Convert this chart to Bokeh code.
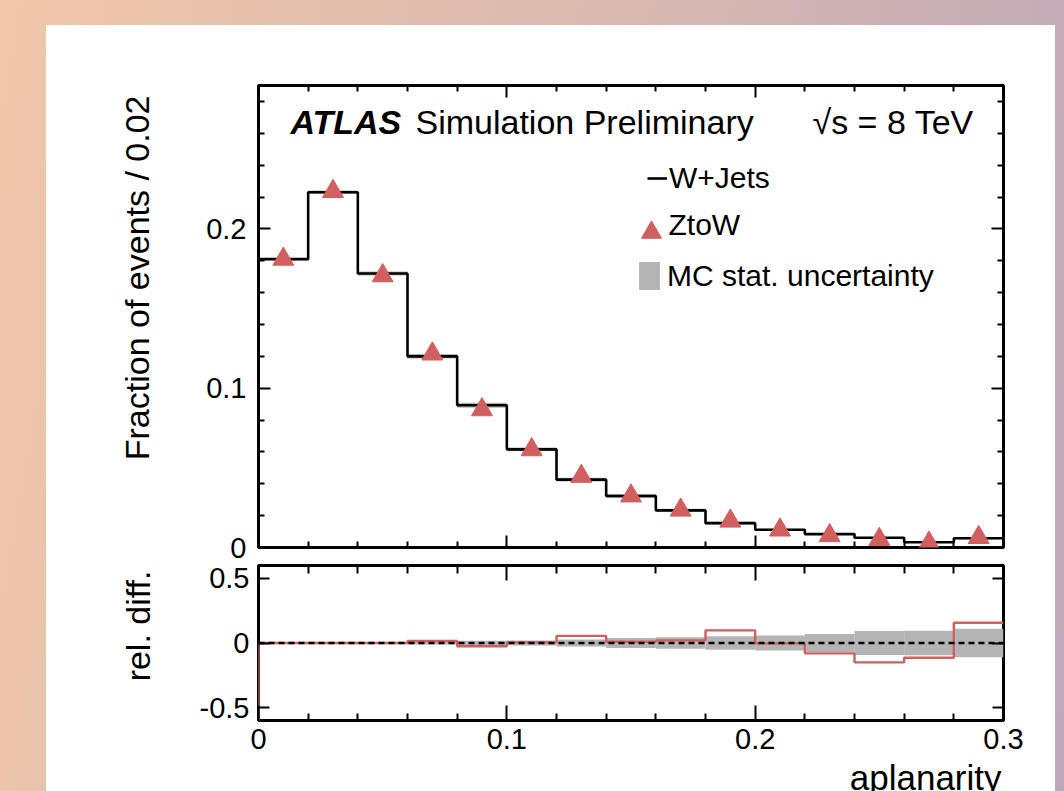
import math
from bokeh.plotting import figure
from bokeh.models import (Range1d, FixedTicker, LinearAxis, Label, Legend, LegendItem, Title)
from bokeh.layouts import column
from bokeh.embed import file_html
from bokeh.resources import INLINE

# ---------------- data ----------------
bin_edges = [0.00, 0.02, 0.04, 0.06, 0.08, 0.10, 0.12, 0.14, 0.16, 0.18,
             0.20, 0.22, 0.24, 0.26, 0.28, 0.30]
wjets = [0.181, 0.223, 0.172, 0.120, 0.0893, 0.0616, 0.0426, 0.0323, 0.0233,
         0.0153, 0.0111, 0.0084, 0.0061, 0.0033, 0.0058]
ztow = [0.181, 0.2235, 0.1706, 0.1215, 0.0865, 0.0614, 0.0447, 0.0324, 0.0235,
        0.0166, 0.0110, 0.0075, 0.0051, 0.0028, 0.0063]
rel_diff = [0.0, 0.0, 0.0, 0.015, -0.025, 0.005, 0.055, 0.01, 0.02, 0.098,
            -0.003, -0.08, -0.15, -0.114, 0.157]
rel_underflow = -1.0
mc_stat = [0.004, 0.005, 0.007, 0.012, 0.018, 0.02, 0.028, 0.038, 0.044,
           0.052, 0.058, 0.07, 0.092, 0.095, 0.11]

x_major = [0.0, 0.1, 0.2, 0.3]
x_minor = [0.02, 0.04, 0.06, 0.08, 0.12, 0.14, 0.16, 0.18, 0.22, 0.24, 0.26, 0.28]
x_labels = {0.0: "0", 0.1: "0.1", 0.2: "0.2", 0.3: "0.3"}
y_top_major = [0.0, 0.1, 0.2]
y_top_minor = [0.02, 0.04, 0.06, 0.08, 0.12, 0.14, 0.16, 0.18, 0.22, 0.24, 0.26, 0.28]
y_top_labels = {0.0: "0", 0.1: "0.1", 0.2: "0.2"}
y_bot_major = [-0.5, 0.0, 0.5]
y_bot_labels = {-0.5: "-0.5", 0.0: "0", 0.5: "0.5"}

FONT = "Liberation Sans"
RED = "#d25f5f"
GRAY = "#b4b4b4"
TICK_FS = "29px"

centers = [(a + b) / 2 for a, b in zip(bin_edges[:-1], bin_edges[1:])]
band_lo = [w * (1 - e) for w, e in zip(wjets, mc_stat)]
band_hi = [w * (1 + e) for w, e in zip(wjets, mc_stat)]


def style_axis(ax, major, minor, labels, maj_in, min_in, standoff=10):
    ax.ticker = FixedTicker(ticks=major, minor_ticks=minor)
    ax.axis_line_color = None
    ax.major_tick_in = maj_in
    ax.major_tick_out = 0
    ax.minor_tick_in = min_in
    ax.minor_tick_out = 0
    ax.major_tick_line_width = 2
    ax.minor_tick_line_width = 2
    ax.major_tick_line_color = "black"
    ax.minor_tick_line_color = "black"
    if labels:
        ax.major_label_overrides = labels
        ax.major_label_text_font = FONT
        ax.major_label_text_font_size = TICK_FS
        ax.major_label_text_color = "black"
        ax.major_label_standoff = standoff
    else:
        ax.major_label_text_font_size = "1px"
        ax.major_label_text_color = None
        ax.major_label_standoff = 0


def title(text, align, offset, standoff, size, valign="bottom"):
    return Title(text=text, align=align, offset=offset, standoff=standoff,
                 vertical_align=valign, text_font=FONT, text_font_size=size,
                 text_font_style="normal", text_color="black")


# ---------------- top panel ----------------
top = figure(width=1009, height=544, x_range=Range1d(0, 0.3), y_range=Range1d(0, 0.29),
             output_backend="svg", toolbar_location=None, title=None,
             min_border_left=212, min_border_right=52, min_border_top=60, min_border_bottom=22)
top.xgrid.grid_line_color = None
top.ygrid.grid_line_color = None
top.outline_line_color = "black"
top.outline_line_width = 3
top.background_fill_color = "white"
top.border_fill_alpha = 0

style_axis(top.xaxis[0], x_major, x_minor, None, 12, 6)
style_axis(top.yaxis[0], y_top_major, y_top_minor, y_top_labels, 12, 6, standoff=12)
ax_r = LinearAxis()
style_axis(ax_r, y_top_major, y_top_minor, None, 12, 6)
top.add_layout(ax_r, "right")
ax_t = LinearAxis()
style_axis(ax_t, x_major, x_minor, None, 12, 6)
top.add_layout(ax_t, "above")
top.add_layout(title("Fraction of events / 0.02", "right", 10, 96, "34px"), "left")

r_band = top.quad(left=bin_edges[:-1], right=bin_edges[1:], top=band_hi, bottom=band_lo,
                  fill_color=GRAY, line_color=None)
r_w = top.step(x=bin_edges, y=wjets + [wjets[-1]], mode="after",
               line_color="black", line_width=2.6)
r_z = top.scatter(x=centers, y=ztow, marker="triangle", size=21,
                  fill_color=RED, line_color=RED)


def make_legend(item, loc, gw, gh, standoff):
    leg = Legend(items=[item], location=loc, glyph_width=gw, glyph_height=gh,
                 label_standoff=standoff, padding=0, margin=0, spacing=0,
                 border_line_color=None, background_fill_alpha=0,
                 label_text_font=FONT, label_text_font_size="30px",
                 label_text_color="black", label_height=gh)
    top.add_layout(leg)


make_legend(LegendItem(label="W+Jets", renderers=[r_w]), (389, 352), 20, 34, 2)
make_legend(LegendItem(label=" ", renderers=[r_z]), (368, 290), 50, 50, 0)
make_legend(LegendItem(label="MC stat. uncertainty", renderers=[r_band]),
            (378, 254), 26, 35, 5)


def top_text(text, dx, baseline_px, size, style="normal"):
    # baseline_px: distance of the text baseline below the frame top
    top.add_layout(Label(x=0, y=0.29, x_offset=dx, y_offset=-(baseline_px - 14), text=text,
                         text_font=FONT, text_font_style=style, text_font_size=size,
                         text_baseline="alphabetic", text_color="black"))


top_text("ATLAS", 32, 50, "34px", "bold italic")
top_text("Simulation Preliminary", 157, 50, "34px")
top_text("\u221as = 8 TeV", 554, 50, "34px")
top_text("ZtoW", 410, 153, "30px")

# ---------------- bottom panel ----------------
bot = figure(width=1009, height=250, x_range=Range1d(0, 0.3), y_range=Range1d(-0.6, 0.6),
             output_backend="svg", toolbar_location=None, title=None,
             min_border_left=212, min_border_right=52, min_border_top=8, min_border_bottom=87)
bot.margin = (-12, 0, 0, 0)
bot.xgrid.grid_line_color = None
bot.ygrid.grid_line_color = None
bot.outline_line_color = "black"
bot.outline_line_width = 3
bot.background_fill_color = "white"
bot.border_fill_alpha = 0

style_axis(bot.xaxis[0], x_major, x_minor, x_labels, 15, 7, standoff=8)
style_axis(bot.yaxis[0], y_bot_major, [], y_bot_labels, 11, 0, standoff=9)
bax_r = LinearAxis()
style_axis(bax_r, y_bot_major, [], None, 11, 0)
bot.add_layout(bax_r, "right")
bax_t = LinearAxis()
style_axis(bax_t, x_major, x_minor, None, 15, 8)
bot.add_layout(bax_t, "above")
bot.add_layout(title("rel. diff.", "right", 5, 80, "34px"), "left")
bot.add_layout(title("aplanarity", "right", 2, 12, "35px", valign="top"), "below")

bot.quad(left=bin_edges[:-1], right=bin_edges[1:], top=mc_stat,
         bottom=[-e for e in mc_stat], fill_color=GRAY, line_color=None)
bot.step(x=[bin_edges[0]] + bin_edges, y=[rel_underflow] + rel_diff + [rel_diff[-1]],
         mode="after", line_color=RED, line_width=2.4)
bot.line(x=[bin_edges[0], bin_edges[-1]], y=[0, 0], line_color="black",
         line_width=2.5, line_dash="6 4")

card = column(top, bot, styles={"background": "white"})
card.margin = (25, 9, 0, 46)
page = column(card, styles={
    "background": "linear-gradient(100deg, #f1c7aa 0%, #dab9b0 50%, #bda9b9 100%)",
    "height": "791px", "max-height": "791px", "overflow": "hidden"})

open("out.html", "w").write(file_html(page, INLINE))
